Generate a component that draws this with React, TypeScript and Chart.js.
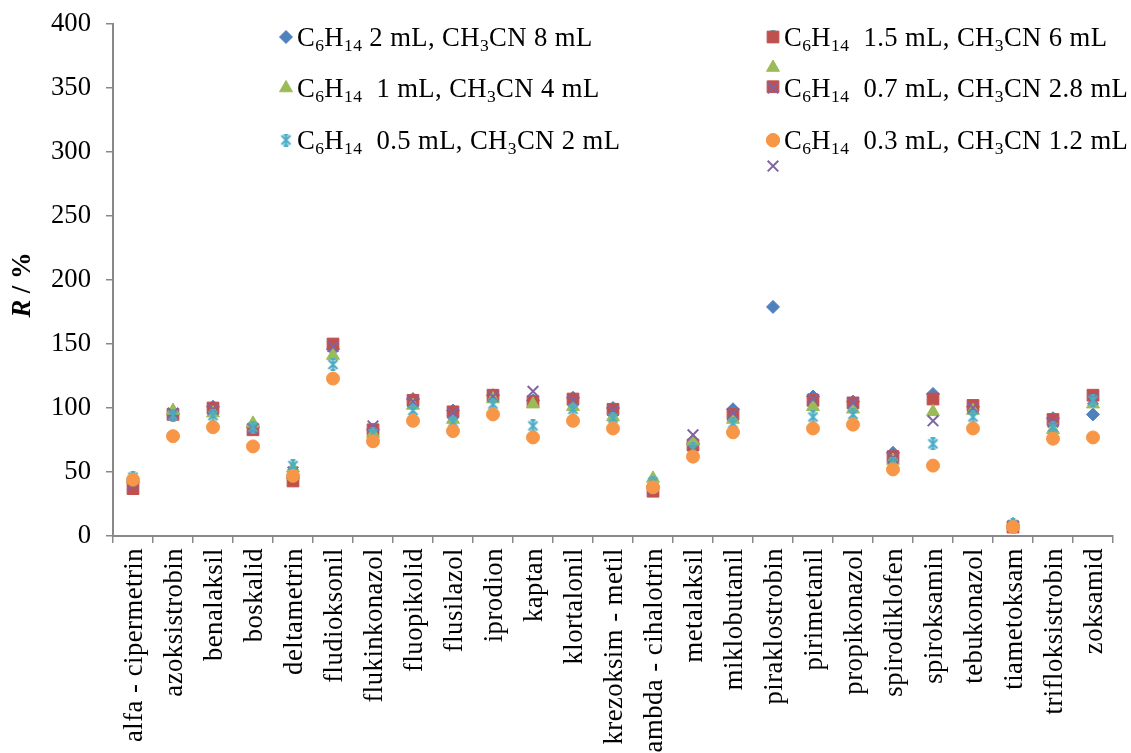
import React, { useEffect, useRef } from 'react';
import { Chart, registerables } from 'chart.js';
import { drawPoint } from 'chart.js/helpers';

Chart.register(...registerables);

const FONT = '"Liberation Serif", "Times New Roman", serif';

const categories = [
  'alfa - cipermetrin', 'azoksistrobin', 'benalaksil', 'boskalid', 'deltametrin',
  'fludioksonil', 'flukinkonazol', 'fluopikolid', 'flusilazol', 'iprodion',
  'kaptan', 'klortalonil', 'krezoksim - metil', 'lambda - cihalotrin', 'metalaksil',
  'miklobutanil', 'piraklostrobin', 'pirimetanil', 'propikonazol', 'spirodiklofen',
  'spiroksamin', 'tebukonazol', 'tiametoksam', 'trifloksistrobin', 'zoksamid',
];

const yTicks = [0, 50, 100, 150, 200, 250, 300, 350, 400];

// series: hexane / acetonitrile volumes
const hexaneVolumes = ['2', '1.5', '1', '0.7', '0.5', '0.3'];
const acetonitrileVolumes = ['8', '6', '4', '2.8', '2', '1.2'];

const hex2mL = [42, 95, 101, 85, 45, 146, 83, 107, 98, 110, 106, 108, 100, 38, 72, 99, 179, 109, 105, 65, 111, 101, 8, 92, 95];
const hex15mL = [37, 95, 100, 83, 43, 150, 83, 106, 97, 110, 105, 107, 99, 35, 71, 95, 351, 106, 104, 62, 107, 102, 7, 91, 110];
const hex1mL = [45, 98, 96, 88, 53, 141, 80, 102, 91, 107, 103, 101, 93, 45, 74, 91, 366, 101, 99, 59, 97, 98, 9, 83, 103];
const hex07mL = [40, 96, 99, 84, 50, 148, 86, 105, 96, 109, 113, 106, 98, 37, 79, 96, 289, 107, 104, 61, 90, 100, 8, 89, 107];
const hex05mL = [46, 94, 94, 85, 55, 134, 80, 98, 89, 103, 86, 99, 92, 42, 68, 88, 390, 93, 95, 57, 72, 93, 9, 85, 106];
const hex03mL = [44, 78, 85, 70, 47, 123, 74, 90, 82, 95, 77, 90, 84, 38, 62, 81, 309, 84, 87, 52, 55, 84, 7, 76, 77];

const seriesData = [hex2mL, hex15mL, hex1mL, hex07mL, hex05mL, hex03mL];
const colors = ['#4F81BD', '#C0504D', '#9BBB59', '#8064A2', '#4BACC6', '#F79646'];

function makeStar(color: string) {
  const c = document.createElement('canvas');
  c.width = 13;
  c.height = 13;
  const g = c.getContext('2d')!;
  g.strokeStyle = color;
  g.lineWidth = 2.2;
  g.beginPath();
  g.moveTo(2, 2); g.lineTo(11, 11);
  g.moveTo(11, 2); g.lineTo(2, 11);
  g.moveTo(6.5, 1); g.lineTo(6.5, 12);
  g.moveTo(4.2, 1.2); g.lineTo(8.8, 1.2);
  g.moveTo(4.2, 11.8); g.lineTo(8.8, 11.8);
  g.stroke();
  return c;
}

export default function App() {
  const ref = useRef<HTMLCanvasElement | null>(null);

  useEffect(() => {
    if (!ref.current) return;
    const star = makeStar(colors[4]);
    const styles: any[] = [
      { pointStyle: 'rectRot', radius: 6.5, borderWidth: 1 },
      { pointStyle: 'rect', radius: 8.3, borderWidth: 1 },
      { pointStyle: 'triangle', radius: 7.5, borderWidth: 1 },
      { pointStyle: 'crossRot', radius: 7.5, borderWidth: 2 },
      { pointStyle: star, radius: 6.5, borderWidth: 0 },
      { pointStyle: 'circle', radius: 6.5, borderWidth: 1 },
    ];

    const datasets = seriesData.map((d, i) => ({
      label: `C6H14 ${hexaneVolumes[i]} mL, CH3CN ${acetonitrileVolumes[i]} mL`,
      data: d,
      showLine: false,
      pointStyle: styles[i].pointStyle,
      pointRadius: styles[i].radius,
      pointBorderWidth: styles[i].borderWidth,
      pointBackgroundColor: colors[i],
      pointBorderColor: colors[i],
      backgroundColor: colors[i],
      borderColor: colors[i],
      order: 5 - i,
      clip: false as any,
    }));

    const overlay = {
      id: 'overlay',
      afterDraw(chart: any) {
        const ctx = chart.ctx as CanvasRenderingContext2D;
        const xs = chart.scales.x;
        // category labels
        ctx.save();
        ctx.fillStyle = '#000';
        ctx.font = `26.67px ${FONT}`;
        (ctx as any).letterSpacing = '0.5px';
        ctx.textAlign = 'right';
        ctx.textBaseline = 'middle';
        categories.forEach((c, i) => {
          const x = xs.getPixelForTick(i);
          ctx.save();
          ctx.translate(x + 1.5, 548);
          ctx.rotate(-Math.PI / 2);
          ctx.fillText(c, 0, 0);
          ctx.restore();
        });
        ctx.restore();

        // y title
        ctx.save();
        ctx.translate(23, 285);
        ctx.rotate(-Math.PI / 2);
        ctx.fillStyle = '#000';
        ctx.textBaseline = 'middle';
        ctx.font = `italic bold 26.67px ${FONT}`;
        const w1 = ctx.measureText('R').width;
        ctx.font = `bold 26.67px ${FONT}`;
        const w2 = ctx.measureText(' / %').width;
        const start = -(w1 + w2) / 2;
        ctx.font = `italic bold 26.67px ${FONT}`;
        ctx.textAlign = 'left';
        ctx.fillText('R', start, 0);
        ctx.font = `bold 26.67px ${FONT}`;
        ctx.fillText(' / %', start + w1, 0);
        ctx.restore();

        // legend
        const colX = [286, 773];
        const rowY = [37, 88, 140];
        for (let i = 0; i < 6; i++) {
          const col = i % 2;
          const row = Math.floor(i / 2);
          const mx = colX[col];
          const my = rowY[row];
          ctx.save();
          ctx.fillStyle = colors[i];
          ctx.strokeStyle = colors[i];
          ctx.lineWidth = styles[i].borderWidth;
          drawPoint(ctx, { pointStyle: styles[i].pointStyle, radius: styles[i].radius, borderWidth: styles[i].borderWidth, rotation: 0 } as any, mx, my);
          ctx.restore();

          const gap = i === 0 ? ' ' : '  ';
          const segs: [string, boolean][] = [
            ['C', false], ['6', true], ['H', false], ['14', true],
            [`${gap}${hexaneVolumes[i]} mL, CH`, false], ['3', true],
            [`CN ${acetonitrileVolumes[i]} mL`, false],
          ];
          let x = mx + 11;
          const base = my + 9;
          ctx.save();
          ctx.fillStyle = '#000';
          ctx.textAlign = 'left';
          ctx.textBaseline = 'alphabetic';
          (ctx as any).letterSpacing = '0.4px';
          segs.forEach(([t, sub]) => {
            ctx.font = sub ? `17.5px ${FONT}` : `26.67px ${FONT}`;
            ctx.fillText(t, x, sub ? base + 5 : base);
            x += ctx.measureText(t).width;
          });
          ctx.restore();
        }
      },
    };

    const chart = new Chart(ref.current, {
      type: 'line',
      data: { labels: categories, datasets: datasets as any },
      options: {
        animation: false,
        responsive: true,
        maintainAspectRatio: false,
        layout: { padding: { top: 24, right: 18, left: 0, bottom: 0 } },
        plugins: { legend: { display: false }, tooltip: { enabled: false } },
        scales: {
          x: {
            type: 'category',
            offset: true,
            grid: { display: true, drawOnChartArea: false, drawTicks: true, tickLength: 7, color: '#898989', lineWidth: 1.5, offset: true },
            border: { display: true, color: '#898989', width: 2 },
            ticks: { display: false },
            afterFit: (s: any) => { s.height = 217; s.paddingLeft = 0; s.paddingRight = 0; },
          },
          y: {
            min: 0,
            max: 400,
            afterBuildTicks: (s: any) => { s.ticks = yTicks.map((v) => ({ value: v })); },
            ticks: { font: { family: FONT, size: 26.67 }, color: '#000', padding: 15 },
            grid: { display: true, drawOnChartArea: false, drawTicks: true, tickLength: 7, color: '#898989', lineWidth: 1.5 },
            border: { display: true, color: '#898989', width: 2 },
            afterFit: (s: any) => { s.width = 113; s.paddingTop = 0; s.paddingBottom = 0; },
          },
        },
      },
      plugins: [overlay],
    });
    return () => chart.destroy();
  }, []);

  return (
    <div style={{ position: 'absolute', left: 0, top: 0, width: 1131, height: 753, background: '#fff' }}>
      <canvas ref={ref} />
    </div>
  );
}
